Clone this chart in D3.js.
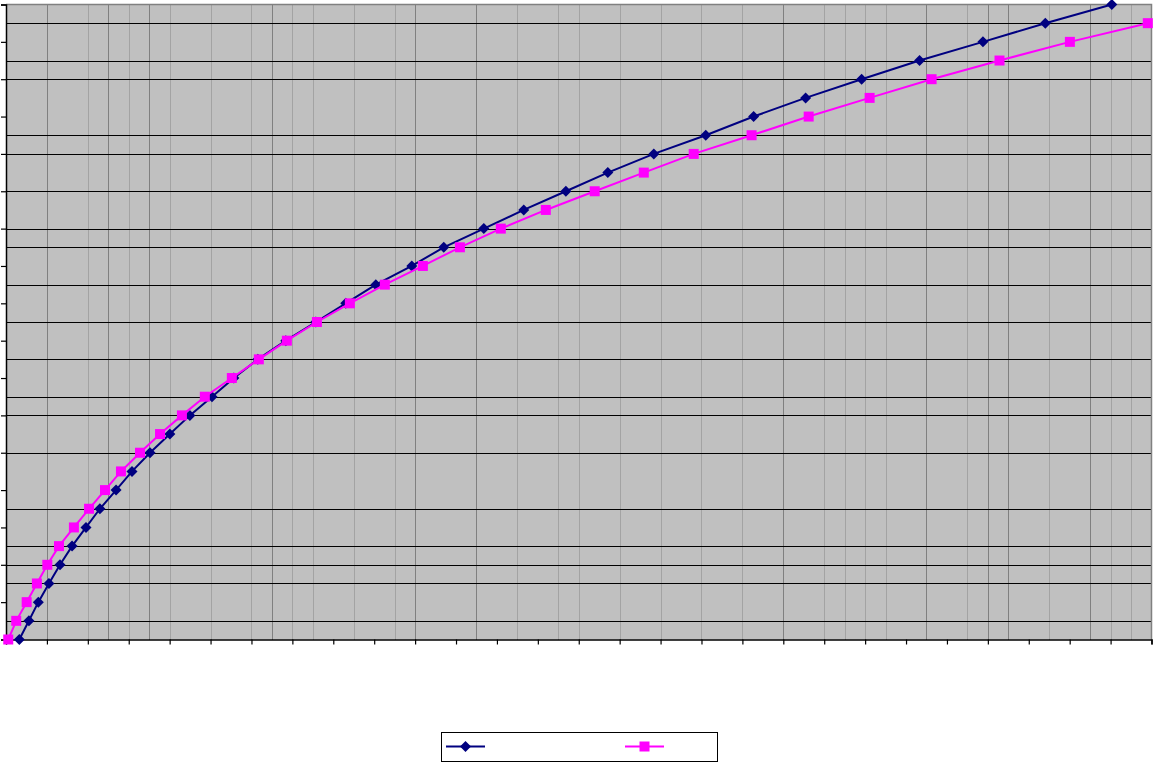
<!DOCTYPE html>
<html>
<head>
<meta charset="utf-8">
<script src="https://cdn.jsdelivr.net/npm/d3@7"></script>
<style>
  html, body { margin: 0; padding: 0; background: #fff; }
  svg { display: block; }
</style>
</head>
<body>
<svg id="chart" width="1158" height="762"></svg>
<script>
// ---- data (x in axis units 0..56, y in axis units 0..34) ----
const seriesNames = ["", ""];
const blueY = d3.range(0, 35);
const blueX = [0.65, 1.12, 1.58, 2.10, 2.64, 3.23, 3.91, 4.59, 5.38, 6.16,
               7.04, 8.01, 8.99, 10.07, 11.14, 12.31, 13.68, 15.15, 16.61, 18.08,
               19.84, 21.40, 23.36, 25.31, 27.37, 29.42, 31.67, 34.21, 36.55, 39.09,
               41.83, 44.66, 47.76, 50.81, 54.06];
const pinkY = d3.range(0, 34);
const pinkX = [0.11, 0.50, 1.01, 1.51, 2.02, 2.59, 3.32, 4.06, 4.84, 5.62,
               6.55, 7.53, 8.60, 9.72, 11.04, 12.36, 13.73, 15.20, 16.81, 18.52,
               20.38, 22.19, 24.19, 26.39, 28.78, 31.18, 33.62, 36.45, 39.24, 42.22,
               45.25, 48.57, 52.01, 55.82];
const xTicks = d3.range(0, 57, 2);
const yTicks = d3.range(0, 35, 2);
// vertical reference lines (x units): darker and lighter
const vLinesDark = [2, 5, 7, 13, 20, 23, 38, 45, 48, 49, 53];
const vLinesLight = [4, 6, 8, 10, 12, 14, 15, 17, 19, 25, 27, 28, 30, 32, 34, 36,
                     40, 41, 42, 43, 47, 51, 54, 55];
// horizontal reference lines (y units)
const hLines = [1, 3, 4, 5, 7, 10, 12, 13, 15, 17, 19, 21, 22, 24, 26, 27, 30, 31, 33];

// ---- drawing ----
const svg = d3.select("#chart");
const x = d3.scaleLinear().domain([0, 56]).range([6, 1151.5]);
const y = d3.scaleLinear().domain([0, 34]).range([639.5, 4.5]);
const px = v => Math.round(x(v)) + 0.5;
const py = v => Math.round(y(v)) + 0.5;

svg.append("rect")
  .attr("x", x(0)).attr("y", y(34))
  .attr("width", x(56) - x(0)).attr("height", y(0) - y(34))
  .attr("fill", "#c0c0c0");

const grid = svg.append("g").attr("shape-rendering", "crispEdges");
grid.selectAll("line.vl").data(vLinesLight).join("line")
  .attr("x1", d => px(d)).attr("x2", d => px(d))
  .attr("y1", y(34)).attr("y2", y(0))
  .attr("stroke", "#a3a3a3").attr("stroke-width", 1);
grid.selectAll("line.vd").data(vLinesDark).join("line")
  .attr("x1", d => px(d)).attr("x2", d => px(d))
  .attr("y1", y(34)).attr("y2", y(0))
  .attr("stroke", "#808080").attr("stroke-width", 1);
grid.selectAll("line.h").data(hLines).join("line")
  .attr("x1", x(0)).attr("x2", x(56))
  .attr("y1", d => py(d)).attr("y2", d => py(d))
  .attr("stroke", "#000").attr("stroke-width", 1);

// plot border (top/right)
svg.append("path")
  .attr("d", `M${x(0)},${y(34)}H${x(56)}V${y(0)}`)
  .attr("fill", "none").attr("stroke", "#808080").attr("stroke-width", 1.5);

// axes
const xAxis = d3.axisBottom(x).tickValues(xTicks).tickSize(5).tickFormat(() => "");
const yAxis = d3.axisLeft(y).tickValues(yTicks).tickSize(5).tickFormat(() => "");
const gx = svg.append("g").attr("transform", `translate(0,${y(0)})`).call(xAxis);
const gy = svg.append("g").attr("transform", `translate(${x(0)},0)`).call(yAxis);
[gx, gy].forEach(g => {
  g.select(".domain").attr("stroke", "#000").attr("stroke-width", 1.5);
  g.selectAll(".tick line").attr("stroke", "#000").attr("stroke-width", 1.2);
});

// series
const blue = blueX.map((v, i) => [v, blueY[i]]);
const pink = pinkX.map((v, i) => [v, pinkY[i]]);
const line = d3.line().x(d => x(d[0])).y(d => y(d[1]));
const diamond = "M0,-5.5L5.5,0L0,5.5L-5.5,0Z";
const square = "M-5,-5H5V5H-5Z";

svg.append("path").datum(blue).attr("d", line)
  .attr("fill", "none").attr("stroke", "#000080").attr("stroke-width", 2);
svg.selectAll("path.bm").data(blue).join("path").attr("class", "bm")
  .attr("d", diamond)
  .attr("transform", d => `translate(${x(d[0])},${y(d[1])})`)
  .attr("fill", "#000080");

svg.append("path").datum(pink).attr("d", line)
  .attr("fill", "none").attr("stroke", "#ff00ff").attr("stroke-width", 2);
svg.selectAll("path.pm").data(pink).join("path").attr("class", "pm")
  .attr("d", square)
  .attr("transform", d => `translate(${x(d[0])},${y(d[1])})`)
  .attr("fill", "#ff00ff");

// legend
const lg = svg.append("g");
lg.append("rect").attr("x", 441.5).attr("y", 732.5).attr("width", 276).attr("height", 29)
  .attr("fill", "#fff").attr("stroke", "#000").attr("stroke-width", 1);
const legendItems = [
  { name: seriesNames[0], color: "#000080", shape: diamond, x1: 446, x2: 485 },
  { name: seriesNames[1], color: "#ff00ff", shape: square, x1: 625, x2: 664 }
];
legendItems.forEach(it => {
  lg.append("line").attr("x1", it.x1).attr("x2", it.x2).attr("y1", 746.5).attr("y2", 746.5)
    .attr("stroke", it.color).attr("stroke-width", 2);
  lg.append("path").attr("d", it.shape)
    .attr("transform", `translate(${(it.x1 + it.x2) / 2},746.5)`)
    .attr("fill", it.color);
  lg.append("text").attr("x", it.x2 + 6).attr("y", 750.5)
    .attr("font-family", "Arial, Liberation Sans, sans-serif").attr("font-size", 12)
    .text(it.name);
});
</script>
</body>
</html>
